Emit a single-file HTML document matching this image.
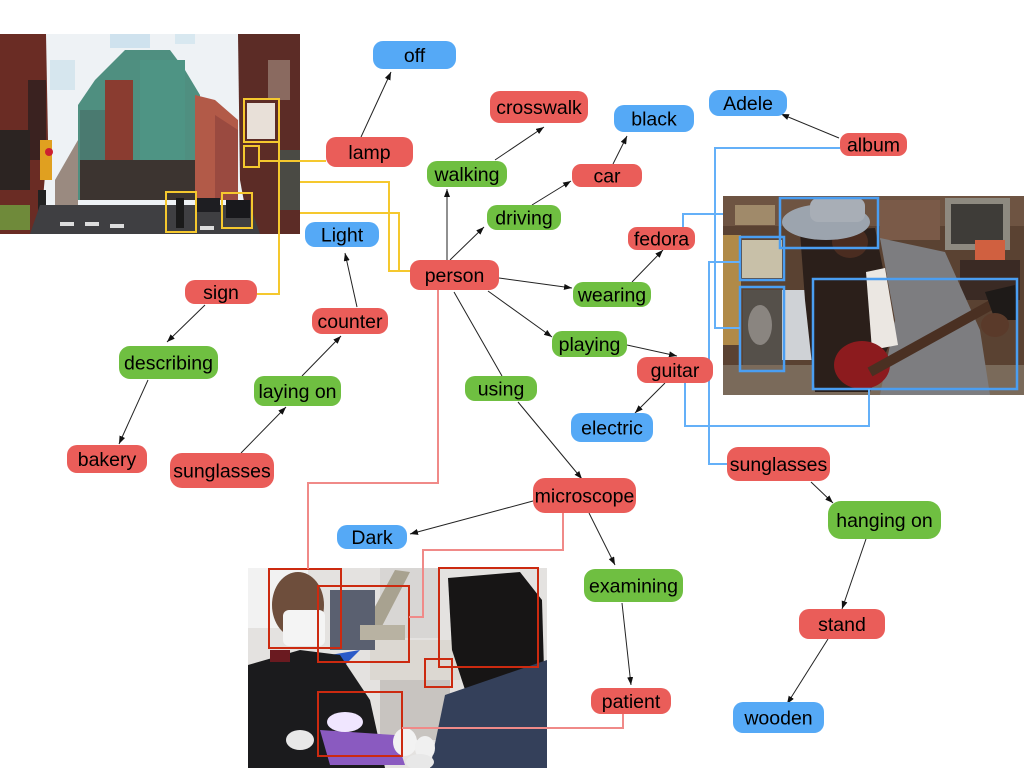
<!DOCTYPE html>
<html><head><meta charset="utf-8"><style>
html,body{margin:0;padding:0;background:#fff;}
svg{display:block;}
text{font-family:"Liberation Sans",Arial,sans-serif;font-size:19.5px;fill:#000;text-anchor:middle;}
</style></head><body>
<svg width="1024" height="768" viewBox="0 0 1024 768" xmlns="http://www.w3.org/2000/svg">
<defs>
<marker id="a" markerWidth="8" markerHeight="6" refX="8" refY="3" orient="auto" markerUnits="userSpaceOnUse"><path d="M0,0 L8,3 L0,6 z" fill="#111"/></marker>
<clipPath id="c1"><rect x="0" y="34" width="300" height="200"/></clipPath>
<clipPath id="c2"><rect x="723" y="196" width="301" height="199"/></clipPath>
<clipPath id="c3"><rect x="248" y="568" width="299" height="200"/></clipPath>
</defs>

<!-- LEFT PHOTO: street -->
<g clip-path="url(#c1)">
<rect x="0" y="34" width="300" height="200" fill="#eef2f5"/>
<rect x="110" y="34" width="40" height="14" fill="#cfe2ee"/>
<rect x="50" y="60" width="25" height="30" fill="#d6e6ee"/>
<rect x="175" y="34" width="20" height="10" fill="#d8e8f0"/>
<polygon points="0,34 46,34 48,140 40,234 0,234" fill="#6a2c24"/>
<rect x="28" y="80" width="18" height="80" fill="#3a2220"/>
<rect x="0" y="130" width="30" height="60" fill="#2c2422"/>
<rect x="0" y="205" width="30" height="25" fill="#6f8a3a"/>
<rect x="40" y="140" width="12" height="40" fill="#e0a020"/>
<rect x="38" y="190" width="8" height="44" fill="#222"/>
<circle cx="49" cy="152" r="4" fill="#cc2030"/>
<polygon points="55,180 78,140 78,205 55,205" fill="#9a8a80"/>
<polygon points="78,105 95,80 125,50 170,50 185,70 200,95 200,200 78,200" fill="#4f8f80"/>
<rect x="80" y="110" width="25" height="80" fill="#4a7a70"/>
<rect x="105" y="80" width="28" height="110" fill="#8a3c30"/>
<rect x="140" y="60" width="45" height="100" fill="#4e9484"/>
<rect x="80" y="160" width="120" height="40" fill="#3c3430"/>
<polygon points="195,95 215,100 238,120 238,200 195,200" fill="#b25a48"/>
<polygon points="215,115 238,130 238,200 215,200" fill="#9a4a40"/>
<polygon points="238,34 300,34 300,234 250,234 240,180" fill="#5c2c26"/>
<rect x="268" y="60" width="22" height="40" fill="#8a6a60"/>
<rect x="280" y="150" width="20" height="60" fill="#4a4a44"/>
<rect x="247" y="103" width="28" height="36" fill="#e8e0d8"/>
<polygon points="40,205 250,205 260,234 30,234" fill="#3f3f42"/>
<rect x="60" y="222" width="14" height="4" fill="#ddd"/><rect x="85" y="222" width="14" height="4" fill="#ddd"/><rect x="110" y="224" width="14" height="4" fill="#ddd"/><rect x="200" y="226" width="14" height="4" fill="#ddd"/>
<rect x="196" y="198" width="24" height="14" fill="#1e1e22"/>
<rect x="226" y="200" width="24" height="18" fill="#18181c"/>
<rect x="176" y="198" width="8" height="30" fill="#1a1a1a"/>
</g>
<g fill="none" stroke="#f5c82e" stroke-width="2">
<rect x="244" y="99" width="35" height="43"/>
<rect x="244" y="146" width="15" height="21"/>
<rect x="166" y="192" width="30" height="40"/>
<rect x="222" y="193" width="30" height="35"/>
</g>

<!-- RIGHT PHOTO: guitar -->
<g clip-path="url(#c2)">
<rect x="723" y="196" width="301" height="199" fill="#5a4232"/>
<rect x="723" y="196" width="301" height="30" fill="#6e5442"/>
<rect x="735" y="205" width="40" height="20" fill="#a08a6a"/>
<rect x="880" y="200" width="60" height="40" fill="#7a5a48"/>
<rect x="723" y="235" width="18" height="110" fill="#b08a48"/>
<rect x="742" y="240" width="40" height="38" fill="#c8c0a8"/>
<rect x="782" y="290" width="30" height="70" fill="#cfd2d6"/>
<rect x="743" y="290" width="39" height="80" fill="#55504a"/>
<ellipse cx="760" cy="325" rx="12" ry="20" fill="#8a8580"/>
<rect x="945" y="198" width="65" height="52" fill="#8e8a80"/>
<rect x="951" y="204" width="52" height="40" fill="#3e3c38"/>
<rect x="960" y="260" width="60" height="40" fill="#3a2a24"/>
<rect x="975" y="240" width="30" height="20" fill="#d06040"/>
<rect x="723" y="365" width="301" height="30" fill="#7a6a5a"/>
<polygon points="800,232 875,228 895,330 870,392 815,392 805,300" fill="#2b1f1a"/>
<polygon points="880,238 945,252 980,330 990,395 880,395 895,320" fill="#7d7d80"/>
<polygon points="866,272 885,268 898,345 872,350" fill="#ebe7e2"/>
<ellipse cx="850" cy="242" rx="18" ry="16" fill="#4a2c20"/>
<ellipse cx="826" cy="222" rx="44" ry="18" fill="#9ca4ae"/>
<rect x="810" y="198" width="55" height="24" rx="8" fill="#a8aeb6"/>
<ellipse cx="862" cy="365" rx="28" ry="24" fill="#8c1b1e"/>
<line x1="870" y1="372" x2="1000" y2="300" stroke="#4a3022" stroke-width="10"/>
<polygon points="985,292 1015,285 1018,320 995,320" fill="#1e1a18"/>
<ellipse cx="995" cy="325" rx="14" ry="12" fill="#5a3a2a"/>
</g>
<g fill="none" stroke="#4a9ef2" stroke-width="2.5">
<rect x="780" y="198" width="98" height="50"/>
<rect x="740" y="237" width="44" height="43"/>
<rect x="740" y="287" width="44" height="84"/>
<rect x="813" y="279" width="204" height="110"/>
</g>

<!-- BOTTOM PHOTO: dentist -->
<g clip-path="url(#c3)">
<rect x="248" y="568" width="299" height="200" fill="#e4e2e0"/>
<rect x="248" y="568" width="60" height="60" fill="#f2f2f2"/>
<rect x="380" y="568" width="60" height="70" fill="#d8d6d4"/>
<rect x="370" y="640" width="90" height="40" fill="#dcd8d2"/>
<rect x="380" y="680" width="70" height="60" fill="#c8c4c0"/>
<polygon points="395,570 410,572 380,630 365,625" fill="#a8a290"/>
<rect x="330" y="590" width="45" height="60" fill="#5a6070"/>
<rect x="360" y="625" width="45" height="15" fill="#b8b2a2"/>
<polygon points="330,655 360,650 345,665 320,668" fill="#2a5ac8"/>
<ellipse cx="298" cy="605" rx="26" ry="33" fill="#6e4e3c"/>
<rect x="283" y="610" width="42" height="36" rx="6" fill="#f4f4f4"/>
<polygon points="248,665 300,650 340,655 370,700 385,768 248,768" fill="#1b1b1d"/>
<rect x="270" y="650" width="20" height="12" fill="#6a1a20"/>
<polygon points="448,578 520,572 542,600 545,705 470,705 452,650" fill="#171515"/>
<polygon points="445,695 547,660 547,768 430,768" fill="#34405a"/>
<polygon points="320,730 395,735 405,765 330,765" fill="#8a5ac0"/>
<ellipse cx="345" cy="722" rx="18" ry="10" fill="#f0e6ff"/>
<ellipse cx="405" cy="742" rx="12" ry="14" fill="#f2f2f2"/>
<ellipse cx="425" cy="748" rx="10" ry="12" fill="#f0f0f0"/>
<ellipse cx="420" cy="762" rx="14" ry="8" fill="#e8e8e8"/>
<ellipse cx="300" cy="740" rx="14" ry="10" fill="#e8e8e8"/>
</g>
<g fill="none" stroke="#cc2a10" stroke-width="2">
<rect x="269" y="569" width="72" height="79"/>
<rect x="318" y="586" width="91" height="76"/>
<rect x="439" y="568" width="99" height="99"/>
<rect x="425" y="659" width="27" height="28"/>
<rect x="318" y="692" width="84" height="64"/>
</g>

<!-- colored connectors -->
<g fill="none" stroke="#f5c82e" stroke-width="2">
<path d="M259,161 H326"/>
<path d="M257,294 H279 V142"/>
<path d="M300,182 H389 V271 H410"/>
<path d="M300,213 H399 V271"/>
</g>
<g fill="none" stroke="#64b0f8" stroke-width="2">
<path d="M683,227 V214 H723"/>
<path d="M840,148 H715 V328 H740"/>
<path d="M727,464 H709 V262 H740"/>
<path d="M685,383 V426 H869 V389"/>
</g>
<g fill="none" stroke="#f08a88" stroke-width="2">
<path d="M438,290 V483 H308 V569"/>
<path d="M563,513 V550 H423 V617 H409"/>
<path d="M623,714 V728 H402"/>
</g>

<!-- black arrows -->
<g stroke="#222" stroke-width="1" fill="none" marker-end="url(#a)">
<line x1="361" y1="137" x2="391" y2="72"/>
<line x1="447" y1="260" x2="447" y2="189"/>
<line x1="495" y1="160" x2="544" y2="127"/>
<line x1="450" y1="260" x2="484" y2="227"/>
<line x1="532" y1="205" x2="571" y2="181"/>
<line x1="613" y1="164" x2="627" y2="136"/>
<line x1="839" y1="138" x2="781" y2="114"/>
<line x1="499" y1="278" x2="572" y2="288"/>
<line x1="632" y1="282" x2="663" y2="250"/>
<line x1="488" y1="291" x2="552" y2="337"/>
<line x1="627" y1="345" x2="677" y2="356"/>
<line x1="665" y1="383" x2="635" y2="413"/>
<line x1="518" y1="402" x2="582" y2="479"/>
<line x1="533" y1="501" x2="410" y2="534"/>
<line x1="589" y1="513" x2="615" y2="565"/>
<line x1="622" y1="603" x2="631" y2="685"/>
<line x1="205" y1="305" x2="167" y2="342"/>
<line x1="148" y1="380" x2="119" y2="444"/>
<line x1="241" y1="453" x2="286" y2="407"/>
<line x1="302" y1="376" x2="341" y2="336"/>
<line x1="357" y1="307" x2="345" y2="253"/>
<line x1="811" y1="482" x2="833" y2="503"/>
<line x1="866" y1="539" x2="842" y2="609"/>
<line x1="828" y1="639" x2="787" y2="704"/>
</g>
<line x1="454" y1="292" x2="502" y2="376" stroke="#222" stroke-width="1"/>

<!-- nodes -->
<g>
<rect x="373" y="41" width="83" height="28" rx="10" fill="#55a9f6"/><text x="414.5" y="62">off</text>
<rect x="326" y="137" width="87" height="30" rx="10" fill="#ea5d59"/><text x="369.5" y="159">lamp</text>
<rect x="490" y="91" width="98" height="32" rx="10" fill="#ea5d59"/><text x="539" y="114">crosswalk</text>
<rect x="614" y="105" width="80" height="27" rx="10" fill="#55a9f6"/><text x="654" y="125.5">black</text>
<rect x="709" y="90" width="78" height="26" rx="10" fill="#55a9f6"/><text x="748" y="110">Adele</text>
<rect x="840" y="133" width="67" height="23" rx="9" fill="#ea5d59"/><text x="873.5" y="151.5">album</text>
<rect x="427" y="161" width="80" height="26" rx="10" fill="#6fbf41"/><text x="467" y="181">walking</text>
<rect x="572" y="164" width="70" height="23" rx="9" fill="#ea5d59"/><text x="607" y="182.5">car</text>
<rect x="487" y="205" width="74" height="25" rx="10" fill="#6fbf41"/><text x="524" y="224.5">driving</text>
<rect x="628" y="227" width="67" height="23" rx="9" fill="#ea5d59"/><text x="661.5" y="245.5">fedora</text>
<rect x="305" y="222" width="74" height="25" rx="10" fill="#55a9f6"/><text x="342" y="241.5">Light</text>
<rect x="410" y="260" width="89" height="30" rx="10" fill="#ea5d59"/><text x="454.5" y="282">person</text>
<rect x="573" y="282" width="78" height="25" rx="10" fill="#6fbf41"/><text x="612" y="301.5">wearing</text>
<rect x="185" y="280" width="72" height="24" rx="10" fill="#ea5d59"/><text x="221" y="299">sign</text>
<rect x="312" y="308" width="76" height="26" rx="10" fill="#ea5d59"/><text x="350" y="328">counter</text>
<rect x="552" y="331" width="75" height="26" rx="10" fill="#6fbf41"/><text x="589.5" y="351">playing</text>
<rect x="637" y="357" width="76" height="26" rx="10" fill="#ea5d59"/><text x="675" y="377">guitar</text>
<rect x="119" y="346" width="99" height="33" rx="11" fill="#6fbf41"/><text x="168.5" y="369.5">describing</text>
<rect x="254" y="376" width="87" height="30" rx="10" fill="#6fbf41"/><text x="297.5" y="398">laying on</text>
<rect x="465" y="376" width="72" height="25" rx="10" fill="#6fbf41"/><text x="501" y="395.5">using</text>
<rect x="571" y="413" width="82" height="29" rx="10" fill="#55a9f6"/><text x="612" y="434.5">electric</text>
<rect x="67" y="445" width="80" height="28" rx="10" fill="#ea5d59"/><text x="107" y="466">bakery</text>
<rect x="170" y="453" width="104" height="35" rx="12" fill="#ea5d59"/><text x="222" y="477.5">sunglasses</text>
<rect x="727" y="447" width="103" height="34" rx="11" fill="#ea5d59"/><text x="778.5" y="471">sunglasses</text>
<rect x="533" y="478" width="103" height="35" rx="12" fill="#ea5d59"/><text x="584.5" y="502.5">microscope</text>
<rect x="828" y="501" width="113" height="38" rx="13" fill="#6fbf41"/><text x="884.5" y="527">hanging on</text>
<rect x="337" y="525" width="70" height="24" rx="10" fill="#55a9f6"/><text x="372" y="544">Dark</text>
<rect x="584" y="569" width="99" height="33" rx="11" fill="#6fbf41"/><text x="633.5" y="592.5">examining</text>
<rect x="799" y="609" width="86" height="30" rx="10" fill="#ea5d59"/><text x="842" y="631">stand</text>
<rect x="591" y="688" width="80" height="26" rx="10" fill="#ea5d59"/><text x="631" y="708">patient</text>
<rect x="733" y="702" width="91" height="31" rx="10" fill="#55a9f6"/><text x="778.5" y="724.5">wooden</text>
</g>
</svg>
</body></html>
